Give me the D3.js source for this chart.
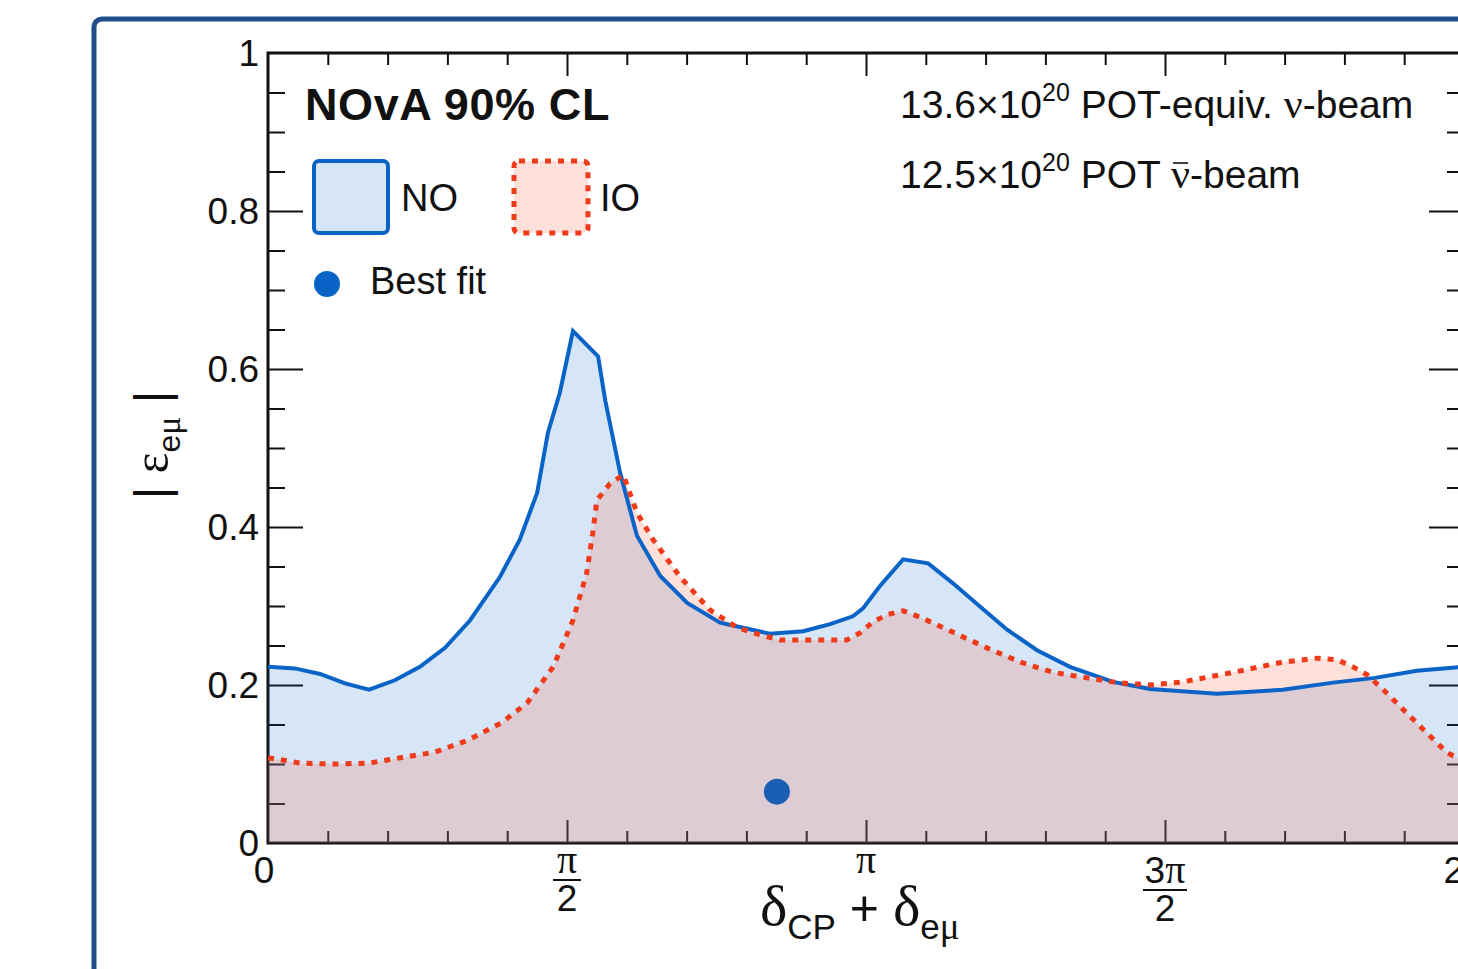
<!DOCTYPE html>
<html>
<head>
<meta charset="utf-8">
<script src="https://cdn.jsdelivr.net/npm/d3@7"></script>
<style>
body { margin: 0; background: #fff; }
svg { display: block; font-family: "Liberation Sans", Arial, sans-serif; }
</style>
</head>
<body>
<svg id="svg" width="1458" height="969"></svg>
<script>
// phase (delta_CP + delta_emu) in units of pi, |eps_emu| at the 90% CL contour
const noPhase = [0.000, 0.045, 0.087, 0.129, 0.169, 0.212, 0.254, 0.296, 0.338, 0.388, 0.421, 0.450, 0.468, 0.488, 0.510,
  0.552, 0.564, 0.589, 0.617, 0.656, 0.701, 0.756, 0.839, 0.895, 0.940, 0.978, 0.995, 1.023, 1.062, 1.104, 1.145,
  1.191, 1.236, 1.286, 1.341, 1.413, 1.475, 1.587, 1.697, 1.781, 1.851, 1.921, 2.000];
const noEps = [0.223, 0.221, 0.214, 0.202, 0.194, 0.206, 0.223, 0.247, 0.282, 0.337, 0.384, 0.443, 0.519, 0.570, 0.648,
  0.616, 0.560, 0.468, 0.389, 0.338, 0.304, 0.279, 0.265, 0.268, 0.277, 0.287, 0.297, 0.325, 0.359, 0.354, 0.329,
  0.299, 0.270, 0.244, 0.223, 0.204, 0.195, 0.189, 0.194, 0.203, 0.209, 0.218, 0.223];

const ioPhase = [0.000, 0.055, 0.112, 0.167, 0.222, 0.279, 0.334, 0.390, 0.433, 0.477, 0.510, 0.533, 0.543, 0.550, 0.572,
  0.594, 0.617, 0.644, 0.689, 0.739, 0.784, 0.811, 0.856, 0.923, 0.968, 0.990, 1.012, 1.035, 1.062, 1.090, 1.145,
  1.202, 1.258, 1.313, 1.370, 1.420, 1.475, 1.530, 1.614, 1.697, 1.754, 1.788, 1.814, 1.838, 1.865, 1.921, 1.972, 2.000];
const ioEps = [0.108, 0.101, 0.100, 0.101, 0.108, 0.115, 0.130, 0.152, 0.177, 0.223, 0.282, 0.342, 0.392, 0.434, 0.455,
  0.466, 0.418, 0.384, 0.337, 0.295, 0.273, 0.266, 0.257, 0.257, 0.257, 0.266, 0.280, 0.289, 0.294, 0.286, 0.267,
  0.247, 0.229, 0.216, 0.209, 0.203, 0.200, 0.204, 0.216, 0.229, 0.234, 0.232, 0.223, 0.213, 0.194, 0.152, 0.114, 0.104];

const bestFit = [0.851, 0.065];

const xTicks = [0, 0.5, 1, 1.5, 2];
const xTickNum = ['0', 'π', 'π', '3π', '2π'];
const xTickDen = ['', '2', '', '2', ''];
const yTicks = [0, 0.2, 0.4, 0.6, 0.8, 1];
const yTickLabels = ['0', '0.2', '0.4', '0.6', '0.8', '1'];

const svg = d3.select('svg');
const serif = '"Liberation Serif", "DejaVu Serif", serif';

const x = d3.scaleLinear().domain([0, 2]).range([268, 1464]);
const y = d3.scaleLinear().domain([0, 1]).range([843, 53]);

// outer slide border
svg.append('rect')
  .attr('x', 94).attr('y', 19).attr('width', 1470).attr('height', 1000).attr('rx', 8)
  .attr('fill', 'none').attr('stroke', '#1f4f8b').attr('stroke-width', 5);

// ticks (all four sides)
const xMinor = d3.range(0, 21).filter(i => i % 5 !== 0).map(i => i / 10);
const yMinor = d3.range(0, 21).filter(i => i % 4 !== 0).map(i => i / 20);
const xMajor = [0.5, 1, 1.5];
const yMajor = [0.2, 0.4, 0.6, 0.8];

function ticks(axis, values, size, tr) {
  const g = svg.append('g').attr('transform', tr)
    .call(axis.tickValues(values).tickSize(size).tickSizeOuter(0).tickFormat(''));
  g.select('.domain').remove();
  g.selectAll('line').attr('stroke', '#111').attr('stroke-width', 2);
}
ticks(d3.axisBottom(x), xMinor, -12, `translate(0,${y(0)})`);
ticks(d3.axisBottom(x), xMajor, -23, `translate(0,${y(0)})`);
ticks(d3.axisTop(x), xMinor, -12, `translate(0,${y(1)})`);
ticks(d3.axisTop(x), xMajor, -23, `translate(0,${y(1)})`);
ticks(d3.axisLeft(y), yMinor, -17, `translate(${x(0)},0)`);
ticks(d3.axisLeft(y), yMajor, -35, `translate(${x(0)},0)`);
ticks(d3.axisRight(y), yMinor, -17, `translate(${x(2)},0)`);
ticks(d3.axisRight(y), yMajor, -35, `translate(${x(2)},0)`);

// frame
svg.append('rect')
  .attr('x', x(0)).attr('y', y(1)).attr('width', x(2) - x(0)).attr('height', y(0) - y(1))
  .attr('fill', 'none').attr('stroke', '#111').attr('stroke-width', 3);

// contours
const noData = noPhase.map((p, i) => [p, noEps[i]]);
const ioData = ioPhase.map((p, i) => [p, ioEps[i]]);
const area = d3.area().x(d => x(d[0])).y0(y(0)).y1(d => y(d[1]));
const line = d3.line().x(d => x(d[0])).y(d => y(d[1]));

svg.append('path').attr('d', area(noData)).attr('fill', 'rgba(0,102,204,0.16)');
svg.append('path').attr('d', area(ioData)).attr('fill', 'rgba(246,114,87,0.22)');
svg.append('path').attr('d', line(noData)).attr('fill', 'none')
  .attr('stroke', '#0a64c8').attr('stroke-width', 4).attr('stroke-linejoin', 'miter');
svg.append('path').attr('d', line(ioData)).attr('fill', 'none')
  .attr('stroke', '#ef3b1a').attr('stroke-width', 5).attr('stroke-dasharray', '6,7');

svg.append('circle').attr('cx', x(bestFit[0])).attr('cy', y(bestFit[1])).attr('r', 13)
  .attr('fill', '#1a5fb4');

// y tick labels
svg.append('g').selectAll('text').data(yTicks).join('text')
  .attr('x', 259).attr('y', d => y(d) + 13)
  .attr('text-anchor', 'end').attr('font-size', 37).attr('fill', '#111')
  .text((d, i) => yTickLabels[i]);

// x tick labels (fractions of pi)
const xl = svg.append('g').attr('fill', '#111');
xTicks.forEach((v, i) => {
  const cx = x(v) - (v === 0 ? 4 : 0);
  const num = xTickNum[i];
  const hasDigit = /[0-9]/.test(num);
  const base = hasDigit ? 883 : 873;
  const t = xl.append('text').attr('x', cx).attr('y', base).attr('text-anchor', 'middle').attr('font-size', 37);
  num.split('').forEach(ch => {
    t.append('tspan').attr('font-family', ch === 'π' ? serif : null)
      .attr('font-size', ch === 'π' ? 40 : 37).text(ch);
  });
  if (xTickDen[i]) {
    xl.append('line').attr('x1', cx - (hasDigit ? 22 : 14)).attr('x2', cx + (hasDigit ? 22 : 14))
      .attr('y1', base + 7).attr('y2', base + 7).attr('stroke', '#111').attr('stroke-width', 2);
    xl.append('text').attr('x', cx).attr('y', base + 38).attr('text-anchor', 'middle')
      .attr('font-size', 37).text(xTickDen[i]);
  }
});

// axis titles
const xt = svg.append('text').attr('x', 760).attr('y', 925).attr('font-size', 50).attr('fill', '#111');
xt.append('tspan').attr('font-family', serif).attr('font-size', 58).text('δ');
xt.append('tspan').attr('font-size', 35).attr('dy', 14).text('CP');
xt.append('tspan').attr('dy', -14).text(' + ');
xt.append('tspan').attr('font-family', serif).attr('font-size', 58).text('δ');
xt.append('tspan').attr('font-size', 35).attr('dy', 14).text('e');
xt.append('tspan').attr('font-family', serif).attr('font-size', 37).text('μ');

const yt = svg.append('text').attr('transform', 'translate(168,445) rotate(-90)')
  .attr('text-anchor', 'middle').attr('font-size', 48).attr('fill', '#111');
yt.append('tspan').text('| ');
yt.append('tspan').attr('font-family', serif).attr('font-size', 50).text('ε');
yt.append('tspan').attr('font-size', 32).attr('dy', 12).text('e');
yt.append('tspan').attr('font-family', serif).attr('font-size', 34).text('μ');
yt.append('tspan').attr('dy', -12).text(' |');

// labels
svg.append('text').attr('x', 305).attr('y', 120).attr('font-size', 45).attr('font-weight', 'bold')
  .attr('letter-spacing', 0.6).attr('fill', '#111').text('NOvA 90% CL');

function potLine(yy, lead, rest, bar) {
  const t = svg.append('text').attr('x', 900).attr('y', yy).attr('font-size', 39).attr('fill', '#111');
  t.append('tspan').text(lead);
  t.append('tspan').attr('font-size', 25).attr('dy', -17).text('20');
  t.append('tspan').attr('dy', 17).text(rest);
  t.append('tspan').attr('font-family', serif).attr('font-size', 42).text('ν');
  t.append('tspan').text('-beam');
  if (bar) {
    const idx = (lead + '20' + rest).length;
    const box = t.node().getExtentOfChar(idx);
    svg.append('line').attr('x1', box.x + 2).attr('x2', box.x + box.width - 2)
      .attr('y1', yy - 25).attr('y2', yy - 25).attr('stroke', '#111').attr('stroke-width', 1.6);
  }
}
potLine(118, '13.6×10', ' POT-equiv. ', false);
potLine(188, '12.5×10', ' POT ', true);

// legend
svg.append('rect').attr('x', 314).attr('y', 161).attr('width', 74).attr('height', 72).attr('rx', 5)
  .attr('fill', '#d6e6f6').attr('stroke', '#0a64c8').attr('stroke-width', 4);
svg.append('text').attr('x', 401).attr('y', 211).attr('font-size', 38).attr('fill', '#111').text('NO');
svg.append('rect').attr('x', 514).attr('y', 161).attr('width', 74).attr('height', 72).attr('rx', 5)
  .attr('fill', '#fde0da').attr('stroke', '#ef3b1a').attr('stroke-width', 5).attr('stroke-dasharray', '6,7');
svg.append('text').attr('x', 600).attr('y', 211).attr('font-size', 38).attr('fill', '#111').text('IO');
svg.append('circle').attr('cx', 327).attr('cy', 284).attr('r', 13).attr('fill', '#0a64c8');
svg.append('text').attr('x', 370).attr('y', 294).attr('font-size', 38).attr('fill', '#111').text('Best fit');
</script>
</body>
</html>
